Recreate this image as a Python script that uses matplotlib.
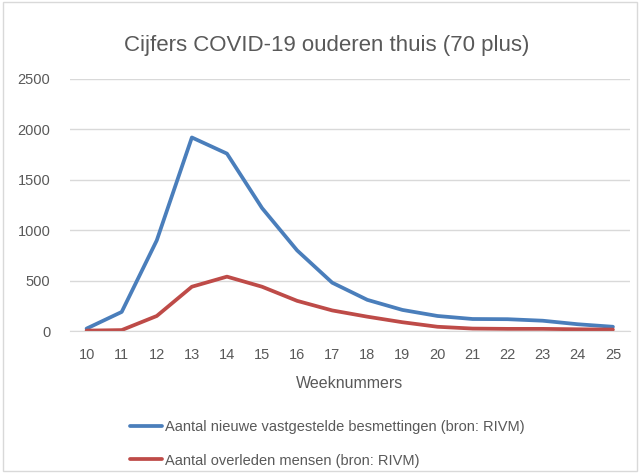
import matplotlib.pyplot as plt
from matplotlib.patches import Rectangle

# ============================================================
# Data
# ============================================================
weeks = list(range(10, 26))
besmettingen = [25, 190, 900, 1920, 1760, 1220, 800, 480, 310, 210, 150, 120, 118, 103, 68, 43]
overleden = [5, 10, 150, 440, 540, 440, 300, 205, 143, 88, 43, 25, 22, 22, 18, 15]

labels = ["Aantal nieuwe vastgestelde besmettingen (bron: RIVM)",
          "Aantal overleden mensen (bron: RIVM)"]

plt.rcParams['font.family'] = ['Liberation Sans', 'DejaVu Sans']
GREY = "#595959"

fig = plt.figure(figsize=(6.4, 4.73), dpi=100)
fig.patches.append(Rectangle((0.004, 0.004), 0.992, 0.992, transform=fig.transFigure,
                             fill=False, edgecolor="#d9d9d9", linewidth=1))

ax = fig.add_axes([0.109, 0.300, 0.875, 0.533])
l1, = ax.plot(weeks, besmettingen, color="#4a7ebb", linewidth=2.7, solid_capstyle="round")
l2, = ax.plot(weeks, overleden, color="#be4b48", linewidth=2.7, solid_capstyle="round")

ax.set_xlim(9.52, 25.48)
ax.set_ylim(0, 2500)
ax.set_yticks(range(0, 2501, 500))
ax.set_xticks(weeks)
ax.grid(axis="y", color="#d9d9d9", linewidth=1)
ax.set_axisbelow(True)
for s in ["top", "right", "left"]:
    ax.spines[s].set_visible(False)
ax.spines["bottom"].set_color("#d9d9d9")
ax.tick_params(axis="both", length=0, colors=GREY, labelsize=10.5, pad=12)
ax.tick_params(axis="y", pad=14)
ax.set_xlabel("Weeknummers", color=GREY, fontsize=11.5, labelpad=10)

fig.text(0.51, 0.903, "Cijfers COVID-19 ouderen thuis (70 plus)", ha="center",
         va="center", fontsize=16, color=GREY)

fig.legend([l1, l2], labels, loc="upper left", bbox_to_anchor=(0.182, 0.14),
           frameon=False, fontsize=10.5, labelcolor=GREY, handlelength=2.2,
           handletextpad=0.2, labelspacing=1.35)

fig.savefig("out.png", dpi=100)
